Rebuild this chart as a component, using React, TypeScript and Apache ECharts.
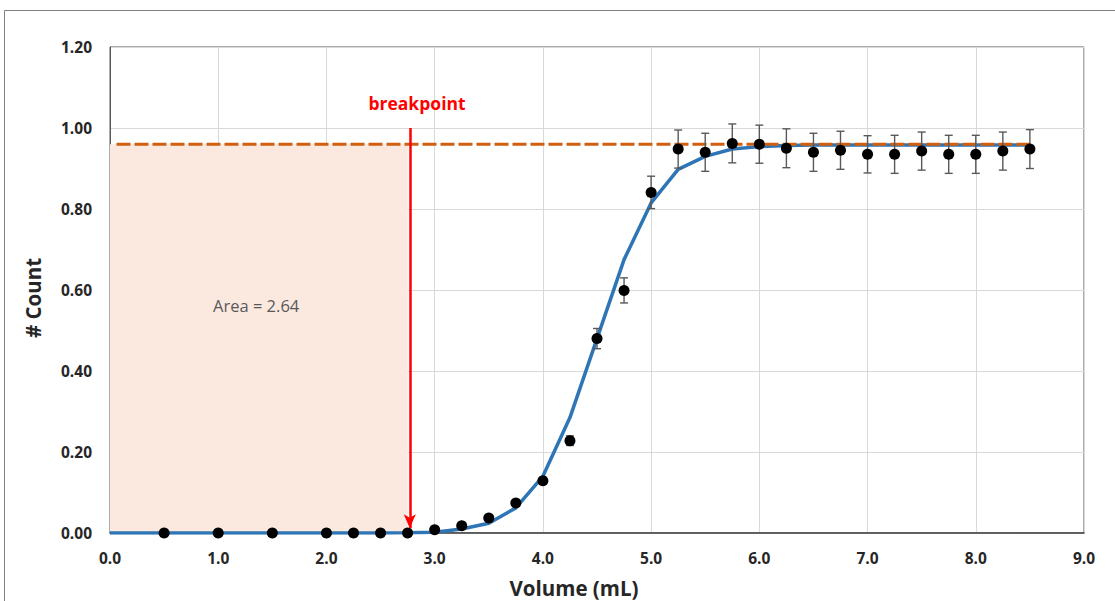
import React, { useEffect, useRef } from "react";
import * as echarts from "echarts";

// Measured data points: volume (mL), count, error (+/-)
const dataX = [0.5, 1.0, 1.5, 2.0, 2.25, 2.5, 2.75, 3.0, 3.25, 3.5, 3.75, 4.0, 4.25, 4.5, 4.75, 5.0, 5.25, 5.5, 5.75, 6.0, 6.25, 6.5, 6.75, 7.0, 7.25, 7.5, 7.75, 8.0, 8.25, 8.5];
const dataY = [0, 0, 0, 0, 0, 0, 0, 0.008, 0.018, 0.037, 0.074, 0.129, 0.228, 0.48, 0.599, 0.841, 0.948, 0.94, 0.962, 0.96, 0.95, 0.94, 0.945, 0.935, 0.935, 0.943, 0.935, 0.935, 0.943, 0.948];
const dataErr = [0, 0, 0, 0, 0, 0, 0, 0, 0, 0, 0, 0, 0.012, 0.025, 0.031, 0.04, 0.047, 0.047, 0.048, 0.047, 0.048, 0.047, 0.047, 0.046, 0.047, 0.047, 0.047, 0.047, 0.047, 0.048];

// Fitted curve
const fitX = [0, 0.5, 1.0, 1.5, 2.0, 2.25, 2.5, 2.75, 3.0, 3.25, 3.5, 3.75, 4.0, 4.25, 4.5, 4.75, 5.0, 5.25, 5.5, 5.75, 6.0, 6.25, 6.5, 6.75, 7.0, 7.25, 7.5, 7.75, 8.0, 8.25, 8.5];
const fitY = [0, 0, 0, 0, 0, 0, 0, 0.0005, 0.002, 0.01, 0.024, 0.062, 0.14, 0.285, 0.48, 0.675, 0.815, 0.898, 0.93, 0.948, 0.954, 0.957, 0.958, 0.958, 0.958, 0.958, 0.958, 0.958, 0.958, 0.958, 0.958];

// Plateau & breakpoint
const plateauValue = 0.96;
const plateauX = [0.06, 8.5];
const areaX = [0, 2.75];
const breakpointX = 2.77;
const arrowY = [1.0, 0.012];
const areaLabel = "Area = 2.64";
const breakpointLabel = "breakpoint";

const xAxisName = "Volume (mL)";
const yAxisName = "# Count";

const FONT = "'Open Sans', 'Noto Sans', sans-serif";

export default function App() {
  const ref = useRef<HTMLDivElement>(null);
  useEffect(() => {
    if (!ref.current) return;
    const chart = echarts.init(ref.current, undefined, { renderer: "svg" });
    const points = dataX.map((x, i) => [x, dataY[i], dataErr[i]]);
    const fit = fitX.map((x, i) => [x, fitY[i]]);
    const option: any = {
      animation: false,
      backgroundColor: "#ffffff",
      grid: {
        left: 110,
        right: 31,
        top: 47,
        bottom: 68,
        show: true,
        borderColor: "#595959",
        borderWidth: 1,
      },
      xAxis: {
        type: "value",
        min: 0,
        max: 9,
        interval: 1,
        axisLine: { show: true, lineStyle: { color: "#404040", width: 1.5 } },
        axisTick: { show: false },
        splitLine: { show: true, lineStyle: { color: "#d9d9d9", width: 1 } },
        axisLabel: {
          formatter: (v: number) => v.toFixed(1),
          fontFamily: FONT,
          fontWeight: "bold",
          fontSize: 15.5,
          color: "#262626",
          margin: 17,
        },
      },
      yAxis: {
        type: "value",
        min: 0,
        max: 1.2,
        interval: 0.2,
        axisLine: { show: true, lineStyle: { color: "#595959", width: 1 } },
        axisTick: { show: false },
        splitLine: { show: true, lineStyle: { color: "#d9d9d9", width: 1 } },
        axisLabel: {
          formatter: (v: number) => v.toFixed(2),
          fontFamily: FONT,
          fontWeight: "bold",
          fontSize: 15.5,
          color: "#262626",
          margin: 18,
        },
      },
      graphic: [
        {
          type: "rect",
          shape: { x: 4.5, y: 10.5, width: 1200, height: 700 },
          style: { fill: "none", stroke: "#808080", lineWidth: 1 },
          silent: true,
        },
        {
          type: "text",
          x: 574,
          y: 588,
          style: {
            text: xAxisName,
            fill: "#262626",
            font: `bold 20.5px ${FONT}`,
            textAlign: "center",
            textVerticalAlign: "middle",
          },
        },
        {
          type: "text",
          x: 33,
          y: 298,
          rotation: Math.PI / 2,
          style: {
            text: yAxisName,
            fill: "#262626",
            font: `bold 20.5px ${FONT}`,
            textAlign: "center",
            textVerticalAlign: "middle",
          },
        },
        {
          type: "text",
          x: 417,
          y: 103,
          style: {
            text: breakpointLabel,
            fill: "#ff0000",
            font: `bold 17.5px ${FONT}`,
            textAlign: "center",
            textVerticalAlign: "middle",
          },
          z: 100,
        },
        {
          type: "text",
          x: 213,
          y: 305,
          style: {
            text: areaLabel,
            fill: "#595959",
            font: `16.5px ${FONT}`,
            textAlign: "left",
            textVerticalAlign: "middle",
          },
          z: 100,
        },
      ],
      series: [
        {
          type: "line",
          name: "area",
          data: [[areaX[0], plateauValue], [areaX[1], plateauValue]],
          symbol: "none",
          lineStyle: { width: 0 },
          areaStyle: { color: "#fbe9df", opacity: 1 },
          z: 1,
          silent: true,
        },
        {
          type: "line",
          name: "fit",
          data: fit,
          symbol: "none",
          lineStyle: { color: "#2e75b6", width: 3.5 },
          z: 3,
        },
        {
          type: "line",
          name: "plateau",
          data: [[plateauX[0], plateauValue], [plateauX[1], plateauValue]],
          symbol: "none",
          lineStyle: { color: "#d0600f", width: 3, type: [14, 4] },
          z: 4,
          markLine: {
            silent: true,
            symbol: ["none", "arrow"],
            symbolSize: [9, 14],
            label: { show: false },
            lineStyle: { color: "#ff0000", width: 2.5, type: "solid" },
            data: [[{ coord: [breakpointX, arrowY[0]] }, { coord: [breakpointX, arrowY[1]] }]],
          },
        },
        {
          type: "custom",
          name: "err",
          data: points,
          encode: { x: 0, y: 1 },
          z: 5,
          renderItem: (params: any, api: any) => {
            const x = api.value(0);
            const y = api.value(1);
            const e = api.value(2);
            if (!e) return null;
            const top = api.coord([x, y + e]);
            const bot = api.coord([x, y - e]);
            const w = 4;
            const st = { stroke: "#595959", lineWidth: 1.4 };
            return {
              type: "group",
              children: [
                { type: "line", shape: { x1: top[0], y1: top[1], x2: bot[0], y2: bot[1] }, style: st },
                { type: "line", shape: { x1: top[0] - w, y1: top[1], x2: top[0] + w, y2: top[1] }, style: st },
                { type: "line", shape: { x1: bot[0] - w, y1: bot[1], x2: bot[0] + w, y2: bot[1] }, style: st },
              ],
            };
          },
        },
        {
          type: "scatter",
          name: "data",
          data: points.map((p) => [p[0], p[1]]),
          symbol: "circle",
          symbolSize: 11,
          itemStyle: { color: "#000000", opacity: 1 },
          z: 6,
        },
      ],
    };
    chart.setOption(option);
    return () => chart.dispose();
  }, []);
  return (
    <div
      ref={ref}
      style={{ position: "fixed", left: 0, top: 0, width: 1115, height: 601, background: "#fff" }}
    />
  );
}
